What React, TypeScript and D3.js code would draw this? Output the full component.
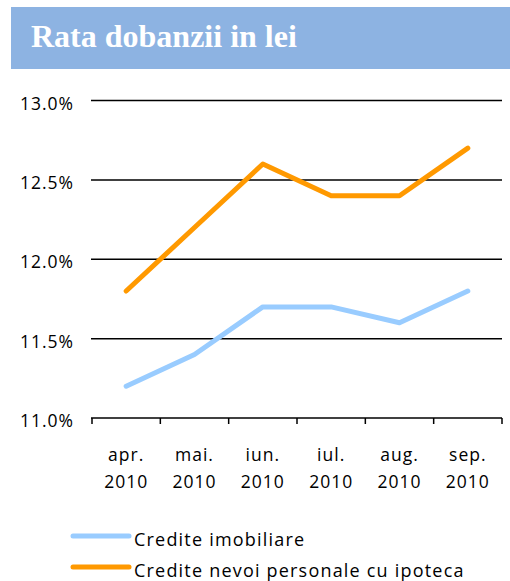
import React from "react";
import * as d3 from "d3";

const months = ["apr.", "mai.", "iun.", "iul.", "aug.", "sep."];
const years = ["2010", "2010", "2010", "2010", "2010", "2010"];
const imobiliare = [11.2, 11.4, 11.7, 11.7, 11.6, 11.8];
const nevoi = [11.8, 12.2, 12.6, 12.4, 12.4, 12.7];
const yTicks = [11.0, 11.5, 12.0, 12.5, 13.0];
const seriesNames = ["Credite imobiliare", "Credite nevoi personale cu ipoteca"];
const seriesColors = ["#99CCFF", "#FF9900"];
const title = "Rata dobanzii in lei";

export default function App() {
  const W = 510, H = 581;
  const x = d3.scaleBand<number>().domain(d3.range(months.length)).range([92, 502]);
  const y = d3.scaleLinear().domain([11, 13]).range([418, 100.5]);
  const line = d3
    .line<number>()
    .x((_, i) => (x(i) as number) + x.bandwidth() / 2)
    .y((d) => y(d));
  const font = "'Open Sans', sans-serif";
  const series = [imobiliare, nevoi];
  const tickXs = d3.range(months.length + 1).map((i) =>
    i < months.length ? (x(i) as number) : (x(months.length - 1) as number) + x.bandwidth()
  );
  return (
    <svg width={W} height={H} style={{ position: "absolute", left: 0, top: 0 }}>
      <rect x={11} y={7} width={499} height={62} fill="#8DB3E2" />
      <text x={31} y={47} fill="#fff" fontFamily="'Liberation Serif', 'Times New Roman', serif" fontWeight="bold" fontSize={32}>
        {title}
      </text>
      {yTicks.map((t) => (
        <g key={t}>
          <line x1={91} x2={502} y1={y(t)} y2={y(t)} stroke="#000" strokeWidth={1.5} />
          <text x={74} y={y(t) + 9} textAnchor="end" fontFamily={font} fontSize={17.5} letterSpacing={1} fill="#000">
            {t.toFixed(1) + "%"}
          </text>
        </g>
      ))}
      {tickXs.map((tx, i) => (
        <line key={i} x1={tx} x2={tx} y1={y(11)} y2={y(11) + 6} stroke="#000" strokeWidth={1.5} />
      ))}
      {months.map((m, i) => {
        const cx = (x(i) as number) + x.bandwidth() / 2;
        return (
          <g key={i} fontFamily={font} fontSize={17.5} letterSpacing={1} fill="#000" textAnchor="middle">
            <text x={cx} y={461}>{m}</text>
            <text x={cx} y={488}>{years[i]}</text>
          </g>
        );
      })}
      {series.map((s, k) => (
        <path key={k} d={line(s) || ""} fill="none" stroke={seriesColors[k]} strokeWidth={5} strokeLinecap="round" strokeLinejoin="round" />
      ))}
      {seriesNames.map((n, k) => (
        <g key={n}>
          <line x1={73} x2={129} y1={536 + k * 31} y2={536 + k * 31} stroke={seriesColors[k]} strokeWidth={5} strokeLinecap="round" />
          <text x={134} y={546 + k * 31} fontFamily={font} fontSize={18} letterSpacing={1.2} fill="#000">
            {n}
          </text>
        </g>
      ))}
    </svg>
  );
}
